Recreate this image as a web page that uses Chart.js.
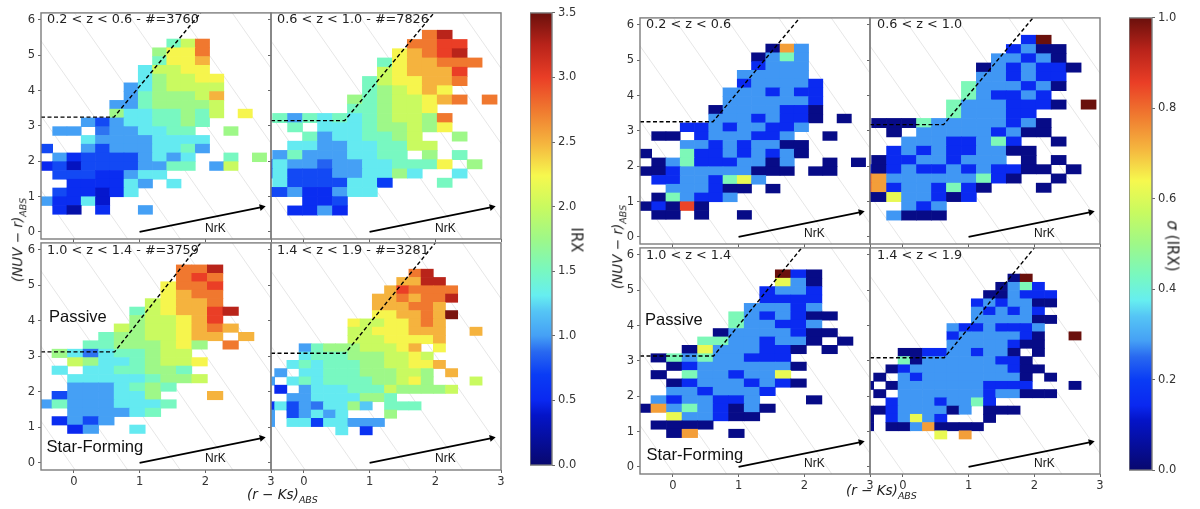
<!DOCTYPE html>
<html>
<head>
<meta charset="utf-8">
<title>IRX maps</title>
<script src="https://cdn.jsdelivr.net/npm/chart.js@4"></script>
<style>
html, body { margin: 0; padding: 0; background: #fff; }
body { position: relative; width: 1200px; height: 509px; overflow: hidden; }
canvas { position: absolute; filter: blur(0.35px); }
.lab { position: absolute; white-space: nowrap; color: #222; font-family: "DejaVu Sans", sans-serif; line-height: 1; z-index: 5; filter: blur(0.25px); }
.arial { font-family: "Liberation Sans", sans-serif; color: #111; }
sub { font-size: 70%; line-height: 0; }
</style>
</head>
<body>
<script>
const _ = null;

// mean IRX per cell, top row first, first column first
const irxA = [
  [_,_,_,_,_,_,_,_,_,1.5,2,2.75],
  [_,_,_,_,_,_,_,_,1.75,2.25,2.25,2.75],
  [_,_,_,_,_,_,_,_,1.5,2.25,2.25,2.5],
  [_,_,_,_,_,_,_,1.3,2,2,2.25,2.25],
  [_,_,_,_,_,_,_,1.3,1.75,2,2,2.25,2.25],
  [_,_,_,_,_,_,1,1.3,1.75,2,2,2,2],
  [_,_,_,_,_,_,1,1.5,1.75,1.75,1.75,2,2.5],
  [_,_,_,_,_,1,1,1.5,1.75,1.75,1.75,1.75,2],
  [_,_,_,_,_,1.75,1.3,1.3,1.5,1.5,1.75,1.5,2,_,2.25],
  [_,_,_,1,.75,1,1.3,1.3,1.5,1.5,1.75,1.5],
  [_,1,1,_,.9,1,1,1.3,1.3,1.5,1.5,_,_,1.75],
  [_,_,_,1.3,1,1,1,1,1.3,1.3,1.3,1.3],
  [.75,_,_,1,.75,1,1,1,1.3,1.3,1.5,1],
  [_,1,.55,.75,.75,.75,.75,1,1.3,1,1.3,_,_,1.5,_,1.75],
  [.5,.75,.35,.75,.75,.75,.75,1,1,1.5,1.5,_,1,2],
  [_,.75,.75,.75,.55,.55,1,1.3,1.3],
  [_,_,.55,.55,.55,.55,1.3,1,_,1.3],
  [_,.75,.55,.55,.4,.55,1.3],
  [1,.55,.55,1.3,.4],
  [_,.55,.25,_,.55,_,_,1]
];
const irxB = [
  [_,_,_,_,_,_,_,_,_,_,_,2.75,3.25],
  [_,_,_,_,_,_,_,_,_,_,2.75,2.75,3,3],
  [_,_,_,_,_,_,_,_,_,2.25,2.5,2.75,3,3.25],
  [_,_,_,_,_,_,_,_,1.5,2.25,2.5,2.5,2.75,2.75,2.75],
  [_,_,_,_,_,_,_,_,2,2.25,2.5,2.5,2.5,3],
  [_,_,_,_,_,_,_,1.5,2,2.25,2.25,2.5,2.5,2.75],
  [_,_,_,_,_,_,_,1.5,1.75,2,2.25,2.5,2.25],
  [_,_,_,_,_,_,1.75,1.5,1.75,2,2,2.25,2.5,2.75,_,2.75],
  [_,_,_,_,_,_,1.5,1.5,1.75,2,2,2.25],
  [_,1.5,1,1.5,1.3,1.5,1.3,1.5,1.75,2,2,1.75,2.75],
  [_,_,1.5,_,1.3,1.3,1.3,1.5,1.75,1.75,2,1.75,2.25],
  [_,_,_,1.5,1,1.3,1.3,1.5,1.5,1.75,2,_,_,1.75],
  [_,_,1.3,1.3,1,1,1.3,1.3,1.5,1.5,2,2],
  [_,1,1.5,1,1,1,1.3,1.3,1.5,1.5,_,1.75,_,1.5],
  [.5,1.3,1,1,.85,1,1,1.3,1.3,1.5,1.5,1.5,2.25,_,1.75],
  [.5,1.3,.75,.75,.75,1,1,1.3,1.3,1.75,1.3,_,_,1.3],
  [_,1.3,.75,.75,.75,.75,1.3,1.3,.7,_,_,_,1.5],
  [.65,.75,1,.55,.55,1,1.3,1.3],
  [_,_,_,.55,.55,.75],
  [_,_,.55,.55,1,.5]
];
const irxC = [
  [_,_,_,_,_,_,_,_,_,2.75,2.75,3.25],
  [_,_,_,_,_,_,_,_,_,2.75,3,2.75],
  [_,_,_,_,_,_,_,_,2.25,2.75,2.75,3],
  [_,_,_,_,_,_,_,_,2.25,2.5,2.75,2.75],
  [_,_,_,_,_,_,_,2,2.25,2.5,2.5,2.75],
  [_,_,_,_,_,_,1.5,2,2.25,2.5,2.5,3,3.25],
  [_,_,_,_,_,_,1.75,2,2,2.25,2.5,3],
  [_,_,_,_,_,2,1.75,2,2,2.25,2.5,2.75,2.5],
  [_,_,_,_,1.5,1.75,1.75,2,2,2.25,2.5,2.5,_,2.5],
  [_,_,_,1.5,1.5,1.75,1.75,1.75,2,2.25,1.75,_,2.75],
  [_,1.75,1.3,.9,1.3,1.5,1.5,1.75,2,2],
  [_,_,2,1.75,1.3,1.3,1.5,1.75,2,2,2.25],
  [_,1.3,_,1.3,1.3,1.5,1.5,1.75,1.75,1.5],
  [_,_,1.3,1.3,1.3,1.3,1.3,1.5,1.75,1.75,2],
  [_,_,1,1,1,1.3,1.5,1.75,1.5],
  [_,.75,1,1,1,1.3,1.3,1.75,_,_,_,2.5],
  [1,1.5,1,1,1,1.3,1.3,1.3,1.5],
  [_,_,1,1,1,1,1.3,1.5],
  [_,.55,1,.75,1],
  [_,_,.5,1,_,_,1.3]
];
const irxD = [
  [_,_,_,_,_,_,_,_,_,_,_,_,2.75,3.25],
  [_,_,_,_,_,_,_,_,_,_,_,2.5,2.5,3.25,3.25],
  [_,_,_,_,_,_,_,_,_,_,2.5,3,2.75,2.75,2.75,2.75],
  [_,_,_,_,_,_,_,_,_,2.5,2.5,2.75,2.5,2.75,2.75,3.25],
  [_,_,_,_,_,_,_,_,_,2.5,2.5,2.5,2.75,2.75,2.5],
  [_,_,_,_,_,_,_,_,_,2.25,2.25,2.5,2.5,2.75,2.5,3.45],
  [_,_,_,_,_,_,_,2.25,2,2,2.25,2.25,2.5,2.75,2.5],
  [_,_,_,_,_,_,_,2,2,2.25,2.25,2.25,2.5,2.5,2.5,_,_,2.5],
  [_,_,_,_,_,_,_,2,2,2,2.25,2.25,2.25,2.25,2.5],
  [_,_,_,1,1.5,1.75,1.75,1.75,2,2,2,2.25,2.5,_,2.25],
  [_,_,_,1.3,1.5,1.5,1.5,1.75,1.75,1.75,2,2,2.25,2],
  [_,_,1.3,1.5,1.3,1.5,1.5,1.5,1.75,1.75,2,2,2.25,2.25,2.5],
  [_,1,_,1.3,1.3,1.5,1.5,1.5,1.75,1.75,1.75,2,2,1.75,_,2.5],
  [1,_,1.3,1.5,1.3,1.5,1.5,1.5,1.5,1.75,1.75,2,2.25,1.75,_,_,_,2],
  [_,.5,_,1,1.3,1.3,1.3,1.5,1.5,1.5,2,1.75,1.75,1.75,1.75,2],
  [_,_,1,1,1.3,1.3,1.3,1.3,1.75,1.75,1.5],
  [.6,1.3,.75,1,.9,1.3,1.3,1.75,1.2,_,1.5,1.5,1.5],
  [1,_,.75,1,1.3,1,1.3,_,_,_,1.75],
  [1,_,1.3,1.3,.7,1.3,1.3,1,1,1],
  [_,_,_,_,_,_,1.3,_,.6]
];

// scatter of IRX per cell, same grids as above
const sigA = [
  [_,_,_,_,_,_,_,_,_,.03,.74,.28],
  [_,_,_,_,_,_,_,_,.03,.28,.44,.28],
  [_,_,_,_,_,_,_,_,.15,.28,.28,.28],
  [_,_,_,_,_,_,_,.28,.28,.28,.28,.28],
  [_,_,_,_,_,_,_,.15,.28,.28,.28,.28,.15],
  [_,_,_,_,_,_,.28,.28,.28,.15,.28,.15,.15],
  [_,_,_,_,_,_,.28,.28,.28,.28,.28,.28,.15],
  [_,_,_,_,_,.03,.28,.28,.28,.28,.15,.15,.03],
  [_,_,_,_,_,.28,.28,.28,.15,.28,.15,.15,.03,_,.03],
  [_,_,_,.15,.15,.28,.15,.28,.28,.15,.15,.28],
  [_,.03,.03,_,.15,.28,.28,.28,.15,.15,.28,_,_,.03],
  [_,_,_,.28,.28,.15,.28,.15,.28,.28,.03,.03],
  [.03,_,_,.44,.15,.15,.28,.15,.28,.15,.28,.03],
  [_,.03,.28,.44,.15,.15,.15,.28,.28,.03,.28,_,_,.03,_,.03],
  [.03,.03,.15,.28,.28,.28,.28,.28,.03,.03,.03,_,.03,.03],
  [_,.15,.15,.28,.28,.15,.44,.62,.28],
  [_,_,.28,.28,.28,.15,.03,.03,_,.03],
  [_,.03,.44,.28,.15,.15,.28],
  [.03,.15,.03,.85,.03],
  [_,.03,.03,_,.03,_,_,.03]
];
const sigB = [
  [_,_,_,_,_,_,_,_,_,_,_,.15,1],
  [_,_,_,_,_,_,_,_,_,_,.15,.28,.03,.03],
  [_,_,_,_,_,_,_,_,_,.28,.28,.15,.28,.03],
  [_,_,_,_,_,_,_,_,.03,.28,.15,.28,.15,.15,.03],
  [_,_,_,_,_,_,_,_,.28,.28,.15,.28,.15,.15],
  [_,_,_,_,_,_,_,.44,.28,.28,.28,.15,.28,.03],
  [_,_,_,_,_,_,_,.44,.28,.15,.15,.28,.15],
  [_,_,_,_,_,_,.44,.28,.28,.28,.15,.15,.15,.03,_,1],
  [_,_,_,_,_,_,.44,.28,.28,.28,.15,.15],
  [_,.03,.03,.03,.44,.28,.28,.28,.28,.28,.15,.28,.03],
  [_,_,.03,_,.28,.28,.28,.28,.28,.15,.28,.03,.03],
  [_,_,_,.28,.28,.28,.15,.15,.28,.44,.15,_,_,.03],
  [_,_,.15,.28,.15,.28,.15,.15,.28,.28,.03,.03],
  [_,.03,.15,.15,.28,.28,.15,.28,.28,.28,_,.03,_,.03],
  [.15,.03,.15,.28,.15,.15,.28,.15,.28,.15,.15,.03,.03,_,.03],
  [.85,.74,.28,.28,.28,.28,.28,.28,.44,.15,.03,_,_,.03],
  [.85,.74,.15,.28,.28,.15,.44,.15,.03,_,_,_,.03],
  [.03,.03,.62,.28,.28,.15,.03,.15],
  [_,_,_,.28,.15,.28],
  [_,_,.28,.03,.03,.03]
];
const sigC = [
  [_,_,_,_,_,_,_,_,_,1,.15,.03],
  [_,_,_,_,_,_,_,_,_,.62,.28,.03],
  [_,_,_,_,_,_,_,_,.15,.28,.28,.15],
  [_,_,_,_,_,_,_,_,.15,.15,.15,.15],
  [_,_,_,_,_,_,_,.28,.28,.28,.15,.28],
  [_,_,_,_,_,_,.44,.28,.15,.28,.15,.03,.03],
  [_,_,_,_,_,_,.44,.28,.28,.15,.15,.28],
  [_,_,_,_,_,.03,.28,.28,.28,.28,.15,.03,.03],
  [_,_,_,_,.44,.44,.28,.28,.15,.28,.28,.03,_,.03],
  [_,_,_,.03,.62,.28,.28,.28,.15,.15,.03,_,.03],
  [_,.03,.44,.28,.44,.28,.28,.15,.15,.15],
  [_,_,.03,.15,.28,.28,.28,.28,.28,.28,.03],
  [_,.03,_,.44,.28,.28,.15,.28,.28,.62],
  [_,_,.03,.15,.28,.28,.28,.15,.28,.15,.03],
  [_,_,.28,.28,.15,.28,.28,.28,.15],
  [_,.28,.15,.28,.28,.15,.15,.28,_,_,_,.03],
  [.03,.74,.28,.44,.28,.15,.03,.28,.03],
  [_,_,.62,.28,.28,.15,.03,.03],
  [_,.03,.03,.03,.03],
  [_,_,.03,.74,_,_,.03]
];
const sigD = [
  [_,_,_,_,_,_,_,_,_,_,_,_,.03,1],
  [_,_,_,_,_,_,_,_,_,_,_,.03,.28,.44,.15],
  [_,_,_,_,_,_,_,_,_,_,.03,.03,.28,.15,.15,.15],
  [_,_,_,_,_,_,_,_,_,.15,.28,.15,.28,.28,.03,.03],
  [_,_,_,_,_,_,_,_,_,.28,.15,.28,.15,.28,.15],
  [_,_,_,_,_,_,_,_,_,.28,.28,.28,.28,.28,.03,.03],
  [_,_,_,_,_,_,_,.28,.15,.15,.28,.15,.15,.15,.28],
  [_,_,_,_,_,_,_,.15,.28,.28,.28,.28,.28,.15,.03,_,_,1],
  [_,_,_,_,_,_,_,.28,.28,.28,.28,.28,.15,.03,.03],
  [_,_,_,.03,.03,.15,.15,.28,.28,.15,.28,.28,.03,_,.03],
  [_,_,_,.44,.03,.28,.28,.28,.28,.28,.28,.15,.15,.03],
  [_,_,.03,.15,.28,.28,.28,.28,.28,.28,.28,.28,.15,.03,.03],
  [_,.03,_,.28,.15,.28,.28,.28,.28,.28,.28,.28,.28,.03,_,.03],
  [.03,_,.03,.28,.28,.28,.28,.28,.28,.28,.15,.15,.15,.15,_,_,_,.03],
  [_,.03,_,.28,.28,.28,.28,.28,.28,.28,.15,.28,.28,.03,.03,.03],
  [_,_,.15,.28,.28,.28,.15,.28,.28,.44,.15],
  [.03,.03,.15,.28,.28,.28,.28,.03,.28,_,.03,.03,.03],
  [.03,_,.15,.28,.62,.28,.15,_,_,_,.03],
  [.03,_,.03,.03,.28,.74,.03,.03,.03,.03],
  [_,_,_,_,_,_,.62,_,.74]
];

// bin edges: first x edge, x step, top y edge, y step
const binsA = [-0.539, 0.217, 5.46, 0.248];
const binsB = [-0.703, 0.2277, 5.71, 0.2617];
const binsC = [-0.569, 0.2364, 5.58, 0.2375];
const binsD = [-0.63, 0.1857, 5.46, 0.2335];

const xTicks = [0, 1, 2, 3];
const yTicks = [0, 1, 2, 3, 4, 5, 6];
const irxTicks = [0, 0.5, 1, 1.5, 2, 2.5, 3, 3.5];
const sigTicks = [0, 0.2, 0.4, 0.6, 0.8, 1];

// selection box: level of the flat part, x of the knee, x where it leaves at the top
const boxLeft = [[3.25, 0.61, 1.93], [3.15, 0.62, 1.98], [3.13, 0.62, 1.93], [3.09, 0.63, 2.0]];
const boxRight = [[3.26, 0.61, 1.93], [3.18, 0.62, 1.98], [3.14, 0.62, 1.96], [3.09, 0.63, 2.0]];

// faint diagonal guides: x at the bottom of the panel, x at the top
const guideFeet = [0.02, 0.82, 1.62, 2.42, 3.22, 4.02, 4.82];
const guideTops = [-2.4, -1.6, -0.8, 0.01, 0.81, 1.61, 2.41];
const arrowX = [1, 2.86];
const arrowY = [0, 0.7];

const titlesLeft = ['0.2 < z < 0.6 - #=3760', '0.6 < z < 1.0 - #=7826', '1.0 < z < 1.4 - #=3759', '1.4 < z < 1.9 - #=3281'];
const titlesRight = ['0.2 < z < 0.6', '0.6 < z < 1.0', '1.0 < z < 1.4', '1.4 < z < 1.9'];

// jet as it looks in the picture (washed out a bit)
const jetPos = [0, .11, .143, .2, .25, .286, .34, .375, .43, .5, .57, .64, .71, .78, .857, .93, 1];
const jetCol = ['#08086e', '#0414c8', '#0a28f0', '#0a3cf5', '#2868f0', '#45a0f5', '#55c5f5', '#66eef0',
  '#78f8c0', '#9ef888', '#c8fa60', '#f6f84e', '#f5b63f', '#f07d30', '#ea3e26', '#b8231a', '#6a100c'];

function hexRgb(h) {
  return [parseInt(h.slice(1, 3), 16), parseInt(h.slice(3, 5), 16), parseInt(h.slice(5, 7), 16)];
}
function jet(t) {
  t = Math.min(1, Math.max(0, t));
  let i = 0;
  while (i < jetPos.length - 2 && t > jetPos[i + 1]) i++;
  const f = (t - jetPos[i]) / (jetPos[i + 1] - jetPos[i]);
  const a = hexRgb(jetCol[i]), b = hexRgb(jetCol[i + 1]);
  return 'rgb(' + a.map((c, k) => Math.round(c + (b[k] - c) * f)).join(',') + ')';
}

const frame = {
  id: 'frame',
  afterDraw(chart) {
    const a = chart.chartArea, ctx = chart.ctx;
    ctx.save();
    ctx.strokeStyle = '#7d7d7d';
    ctx.lineWidth = 1.4;
    ctx.strokeRect(a.left, a.top, a.right - a.left, a.bottom - a.top);
    ctx.restore();
  }
};

function addLabel(html, x, y, size, cls, rot) {
  const d = document.createElement('div');
  d.className = 'lab ' + (cls || '');
  d.innerHTML = html;
  d.style.fontSize = size + 'px';
  d.style.left = x + 'px';
  d.style.top = y + 'px';
  d.style.transform = rot ? 'translate(-50%,-50%) rotate(' + rot + 'deg)' : 'translateY(-50%)';
  document.body.appendChild(d);
}

function drawPanel(grid, bins, vmax, box, px, py, w, h, showX, showY) {
  const canvas = document.createElement('canvas');
  const padL = 32, padT = 6, padR = 10, padB = 24;
  canvas.width = padL + w + padR;
  canvas.height = padT + h + padB;
  canvas.style.left = (px - padL) + 'px';
  canvas.style.top = (py - padT) + 'px';
  document.body.appendChild(canvas);

  const cells = [], colors = [];
  grid.forEach((row, i) => row.forEach((v, j) => {
    if (v === null) return;
    cells.push({ x: bins[0] + (j + 0.5) * bins[1], y: [bins[2] - (i + 1) * bins[3], bins[2] - i * bins[3]] });
    colors.push(jet(v / vmax));
  }));

  const datasets = [
    { type: 'line', order: 0, data: [{ x: arrowX[0], y: arrowY[0] }, { x: arrowX[1], y: arrowY[1] }],
      borderColor: '#000', backgroundColor: '#000', borderWidth: 1.8,
      pointRadius: [0, 4], pointStyle: 'triangle', pointRotation: 78, pointBorderWidth: 0 },
    { type: 'line', order: 1, data: [{ x: -0.5, y: box[0] }, { x: box[1], y: box[0] }, { x: box[2], y: 6.2 }],
      borderColor: '#000', borderWidth: 1.4, borderDash: [4, 2.5], pointRadius: 0, tension: 0 },
    { type: 'bar', order: 2, data: cells, backgroundColor: colors, borderWidth: 0,
      barPercentage: 1, categoryPercentage: 1 }
  ];
  guideFeet.forEach((foot, i) => datasets.push({
    type: 'line', order: 3, data: [{ x: guideTops[i], y: 6.2 }, { x: foot, y: -0.2 }],
    borderColor: 'rgba(150,150,150,0.3)', borderWidth: 0.8, pointRadius: 0
  }));

  new Chart(canvas, {
    type: 'bar',
    data: { datasets },
    options: {
      responsive: false, animation: false, devicePixelRatio: 1,
      layout: { padding: { top: padT, right: padR, left: 0, bottom: 0 } },
      plugins: { legend: { display: false }, tooltip: { enabled: false } },
      scales: {
        x: {
          type: 'linear', min: -0.5, max: 3, offset: false,
          afterBuildTicks: s => { s.ticks = xTicks.map(v => ({ value: v })); },
          afterFit: s => { s.height = padB; },
          grid: { drawOnChartArea: false, tickLength: 3, tickColor: '#666', offset: false },
          border: { display: false },
          ticks: { autoSkip: false, maxRotation: 0, padding: 2, color: '#333', font: { family: 'DejaVu Sans', size: 11.5 },
            callback: v => showX ? v : '' }
        },
        y: {
          type: 'linear', min: -0.2, max: 6.2,
          afterBuildTicks: s => { s.ticks = yTicks.map(v => ({ value: v })); },
          afterFit: s => { s.width = padL; },
          grid: { drawOnChartArea: false, tickLength: 3, tickColor: '#666' },
          border: { display: false },
          ticks: { autoSkip: false, padding: 3, color: '#333', font: { family: 'DejaVu Sans', size: 11.5 },
            callback: v => showY ? v : '' }
        }
      }
    },
    plugins: [frame]
  });
}

function drawColorbar(ticks, vmax, digits, px, py, w, h) {
  const canvas = document.createElement('canvas');
  const padT = 6, padR = 34;
  canvas.width = w + padR;
  canvas.height = h + padT * 2;
  canvas.style.left = px + 'px';
  canvas.style.top = (py - padT) + 'px';
  document.body.appendChild(canvas);
  new Chart(canvas, {
    type: 'bar',
    data: { labels: [''], datasets: [{
      data: [[0, vmax]], borderWidth: 0, barPercentage: 1, categoryPercentage: 1,
      backgroundColor: c => {
        const a = c.chart.chartArea;
        if (!a) return '#000';
        const g = c.chart.ctx.createLinearGradient(0, a.bottom, 0, a.top);
        jetPos.forEach((p, i) => g.addColorStop(p, jetCol[i]));
        return g;
      }
    }] },
    options: {
      responsive: false, animation: false, devicePixelRatio: 1,
      layout: { padding: { top: padT, bottom: padT, left: 0, right: 0 } },
      plugins: { legend: { display: false }, tooltip: { enabled: false } },
      scales: {
        x: { display: false },
        y: {
          position: 'right', min: 0, max: vmax,
          afterBuildTicks: s => { s.ticks = ticks.map(v => ({ value: v })); },
          afterFit: s => { s.width = padR; },
          grid: { drawOnChartArea: false, tickLength: 3, tickColor: '#666' },
          border: { display: false },
          ticks: { autoSkip: false, padding: 3, color: '#333', font: { family: 'DejaVu Sans', size: 11.5 },
            callback: v => v.toFixed(digits) }
        }
      }
    },
    plugins: [frame]
  });
}

// left figure
const leftX = [41, 271], leftY = [9, 239];
drawPanel(irxA, binsA, 3.5, boxLeft[0], leftX[0], leftY[0], 230, 230, false, true);
drawPanel(irxB, binsB, 3.5, boxLeft[1], leftX[1], leftY[0], 230, 230, false, false);
drawPanel(irxC, binsC, 3.5, boxLeft[2], leftX[0], leftY[1], 230, 231, true, true);
drawPanel(irxD, binsD, 3.5, boxLeft[3], leftX[1], leftY[1], 230, 231, true, false);
drawColorbar(irxTicks, 3.5, 1, 530, 9, 22, 460);

// right figure
const rightX = [640, 870], rightY = [14, 244];
drawPanel(sigA, binsA, 1, boxRight[0], rightX[0], rightY[0], 230, 230, false, true);
drawPanel(sigB, binsB, 1, boxRight[1], rightX[1], rightY[0], 230, 230, false, false);
drawPanel(sigC, binsC, 1, boxRight[2], rightX[0], rightY[1], 230, 230, true, true);
drawPanel(sigD, binsD, 1, boxRight[3], rightX[1], rightY[1], 230, 230, true, false);
drawColorbar(sigTicks, 1, 1, 1129, 14, 23, 460);

// panel titles and arrow labels
[[47, 19], [277, 19], [47, 250], [277, 250]].forEach((p, i) => addLabel(titlesLeft[i].replace(/</g, '&lt;'), p[0], p[1], 12.8));
[[646, 24], [877, 24], [646, 255], [877, 255]].forEach((p, i) => addLabel(titlesRight[i].replace(/</g, '&lt;'), p[0], p[1], 12.8));
[[205, 228], [435, 228], [205, 458], [435, 458], [804, 233], [1034, 233], [804, 463], [1034, 463]].forEach(p => addLabel('NrK', p[0], p[1], 12, 'arial'));

addLabel('Passive', 49, 316, 16.5, 'arial');
addLabel('Star-Forming', 46.5, 447, 16.6, 'arial');
addLabel('Passive', 645, 319, 16.5, 'arial');
addLabel('Star-Forming', 646.5, 455, 16.6, 'arial');

// axis titles
const yTitle = '<i>(NUV − r)</i><sub><i>ABS</i></sub>';
const xTitle = '<i>(r − Ks)</i><sub><i>ABS</i></sub>';
addLabel(yTitle, 18, 240, 13.5, '', -90);
addLabel(yTitle, 618, 247, 13.5, '', -90);
addLabel(xTitle, 247, 495, 13.5);
addLabel(xTitle, 846, 491, 13.5);
addLabel('IRX', 576, 240, 15, '', 90);
addLabel('<i>σ</i> (IRX)', 1172, 246, 15, '', 90);
</script>
</body>
</html>
